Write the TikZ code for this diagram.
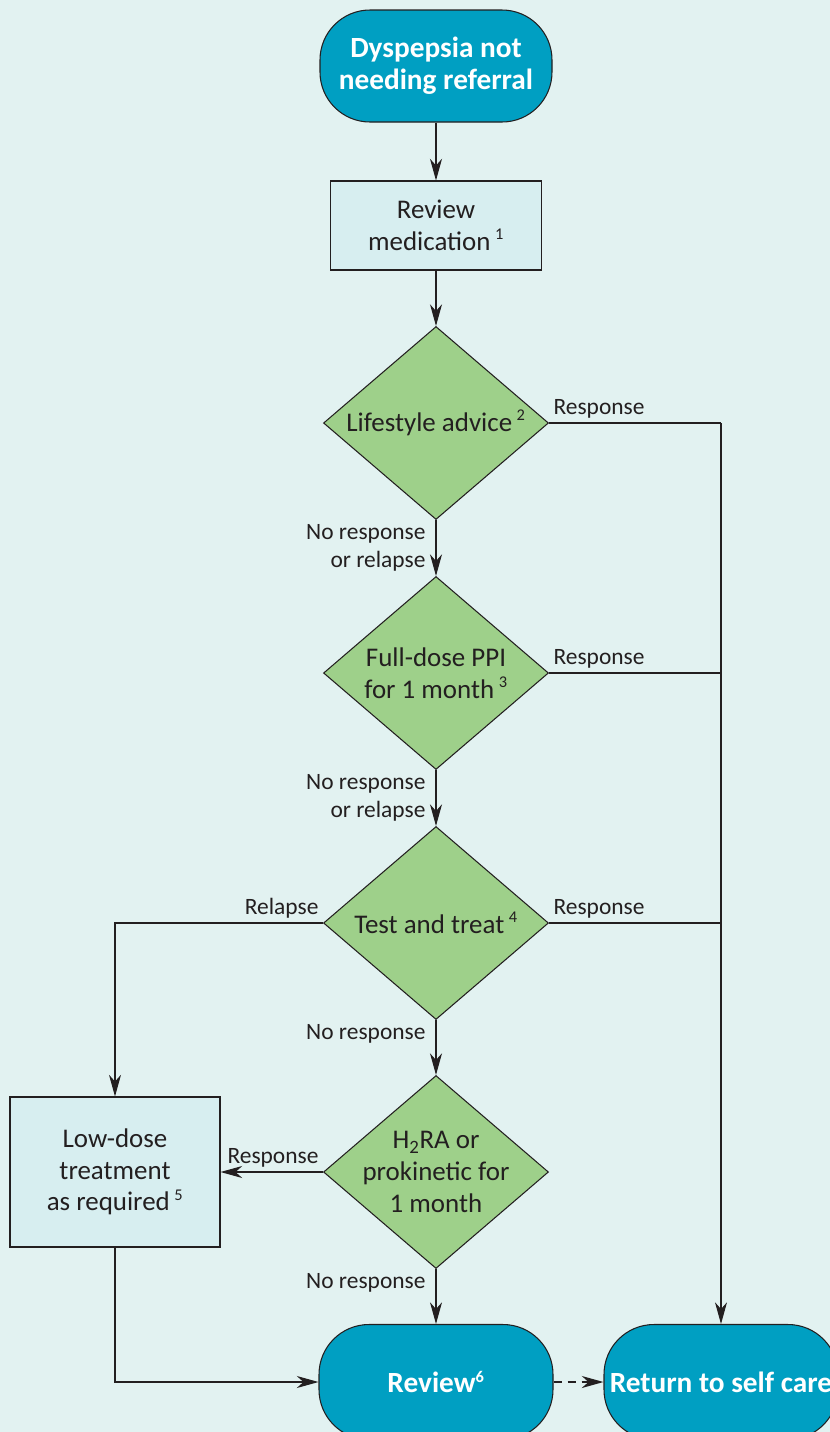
\documentclass[tikz,border=0pt]{standalone}
\usepackage{fontspec}
\setmainfont{Carlito}
\usetikzlibrary{shapes.geometric,arrows.meta}

\definecolor{bgcol}{RGB}{226,242,241}
\definecolor{termcol}{RGB}{0,159,194}
\definecolor{boxcol}{RGB}{215,238,240}
\definecolor{deccol}{RGB}{158,208,138}
\definecolor{inkcol}{RGB}{35,31,32}

\newcommand{\noteref}[1]{\textsuperscript{\fontsize{14}{14}\selectfont #1}}

\tikzset{
	term/.style={draw=inkcol, line width=0.9pt, fill=termcol, rounded corners=15mm, minimum width=69.6mm, minimum height=33.6mm, align=center, text=white, font=\fontsize{25}{27}\selectfont\bfseries},
	procbox/.style={draw=inkcol, line width=0.9pt, fill=boxcol, align=center, text=inkcol, font=\fontsize{23}{27}\selectfont},
	decision/.style={diamond, draw=inkcol, line width=0.9pt, fill=deccol, minimum width=67.5mm, minimum height=57.9mm, inner sep=-7mm, align=center, text=inkcol, font=\fontsize{23}{27}\selectfont},
	lbl/.style={text=inkcol, font=\fontsize{20}{24}\selectfont, inner sep=1.2mm},
	link/.style={draw=inkcol, line width=0.9pt},
	flow/.style={link, -{Stealth[length=6.5mm, width=3.6mm, inset=2mm]}},
}

\begin{document}
\begin{tikzpicture}[x=0.3mm, y=-0.3mm]
		\useasboundingbox (0,0) rectangle (830,1432);
		\clip (0,0) rectangle (830,1432);
		\fill[bgcol] (0,0) rectangle (830,1432);
		
		\node[term] (start) at (436,66) {Dyspepsia not\\needing referral};
		\node[procbox, minimum width=63.3mm, minimum height=26.7mm] (revmed) at (436,225.5) {Review\\medication\,\noteref{1}};
		\node[decision] (life) at (436,423) {Lifestyle advice\,\noteref{2}};
		\node[decision] (ppi) at (436,673) {Full-dose PPI\\for 1 month\,\noteref{3}};
		\node[decision] (test) at (436,923) {Test and treat\,\noteref{4}};
		\node[decision] (htwo) at (436,1172) {H\textsubscript{2}RA or\\prokinetic for\\1 month};
		\node[procbox, minimum width=63mm, minimum height=45mm] (lowdose) at (115,1172) {Low-dose\\treatment\\as required\,\noteref{5}};
		\node[term, minimum width=70.2mm, minimum height=34.5mm] (review) at (436,1382) {Review\noteref{6}};
		\node[term, minimum width=70.2mm, minimum height=34.5mm] (selfcare) at (721,1382) {Return to self care};
		
		\coordinate (r1) at (721,423);
		\coordinate (r2) at (721,673);
		\coordinate (r3) at (721,923);
		\coordinate (l3) at (115,923);
		
		% main column
		\draw[flow] (start) -- (revmed);
		\draw[flow] (revmed) -- (life);
		\draw[flow] (life) -- node[lbl, below left, pos=0, xshift=-1.8mm, align=right]{No response\\or relapse} (ppi);
		\draw[flow] (ppi) -- node[lbl, below left, pos=0, xshift=-1.8mm, align=right]{No response\\or relapse} (test);
		\draw[flow] (test) -- node[lbl, below left, pos=0, xshift=-1.8mm]{No response} (htwo);
		\draw[flow] (htwo) -- node[lbl, below left, pos=0, xshift=-1.8mm]{No response} (review);
		
		% responses to the right
		\draw[link] (life.east) -- node[lbl, above right, pos=0]{Response} (r1);
		\draw[link] (ppi.east) -- node[lbl, above right, pos=0]{Response} (r2);
		\draw[link] (test.east) -- node[lbl, above right, pos=0]{Response} (r3);
		\draw[flow] (r1) -- (selfcare.north);
		
		% left branch
		\draw[flow] (test.west) -- node[lbl, above left, pos=0]{Relapse} (l3) -- (lowdose.north);
		\draw[flow] (htwo.west) -- node[lbl, above left, pos=0]{Response} (lowdose.east);
		\draw[flow] (lowdose.south) |- (review.west);
		\draw[flow, line width=1.4pt, dash pattern=on 2.4mm off 1.8mm] (review.east) -- (selfcare.west);
\end{tikzpicture}
\end{document}
